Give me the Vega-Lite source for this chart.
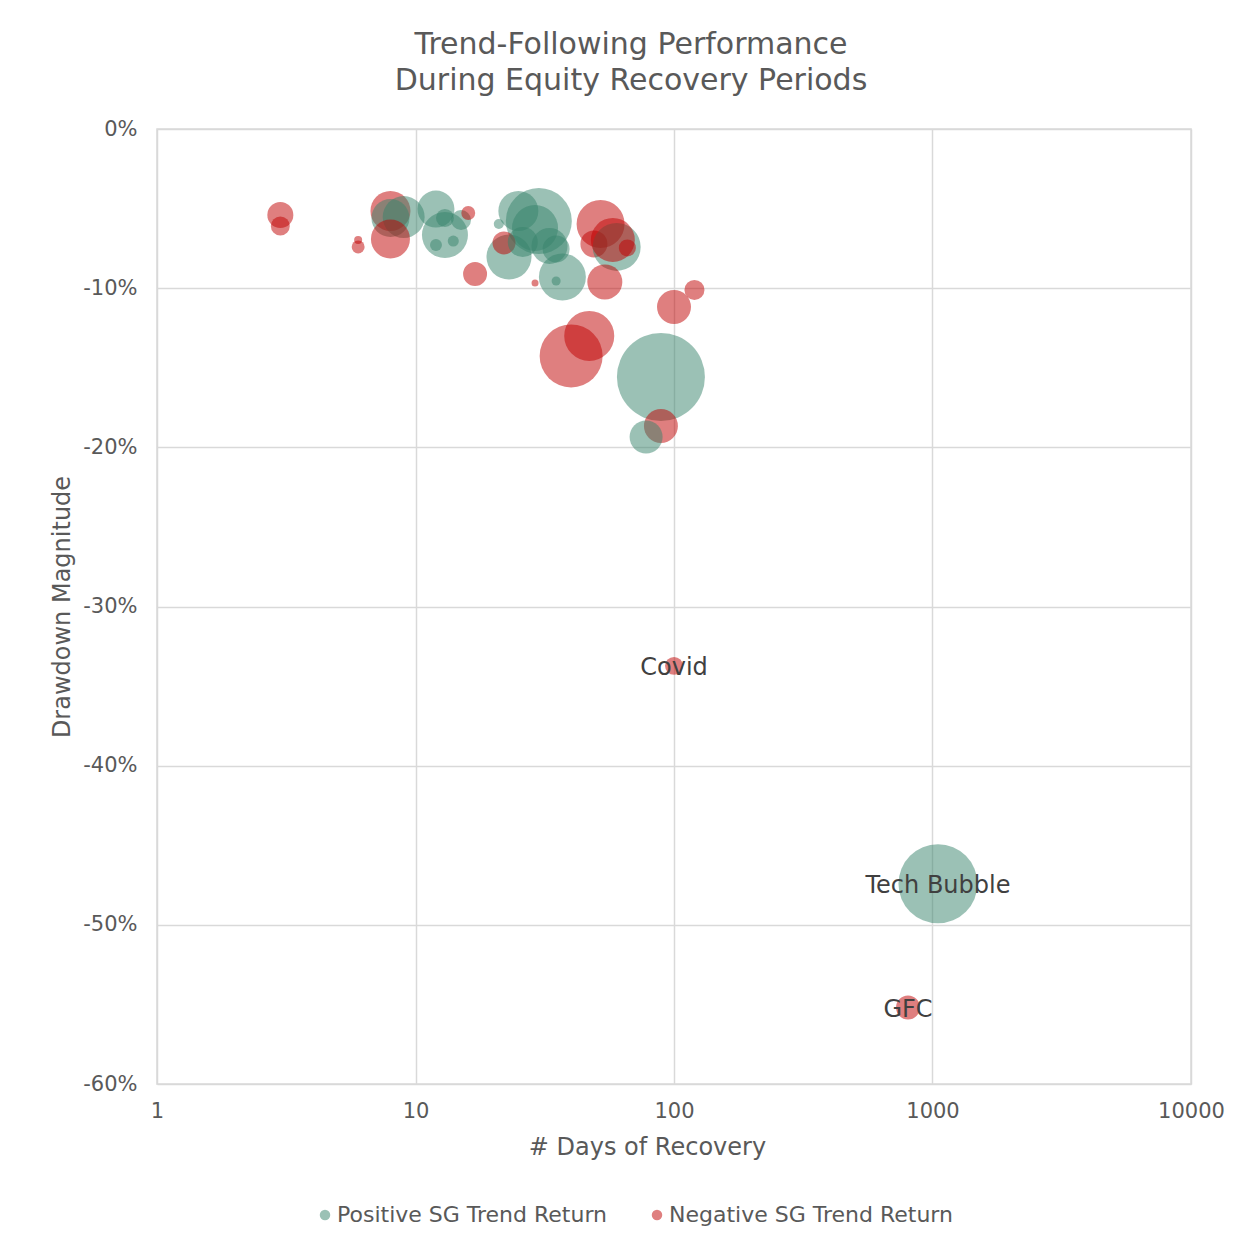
{
  "$schema": "https://vega.github.io/schema/vega-lite/v6.json",
  "width": 1034,
  "height": 955,
  "autosize": {"type": "none"},
  "padding": {"left": 157, "top": 129, "right": 59, "bottom": 163},
  "background": "white",
  "config": {
    "font": "DejaVu Sans",
    "view": {"stroke": "#D9D9D9", "strokeWidth": 1.5},
    "axis": {
      "gridColor": "#D9D9D9",
      "gridWidth": 1.5,
      "domain": false,
      "ticks": false,
      "labelColor": "#595959",
      "titleColor": "#595959",
      "labelFontSize": 21,
      "titleFontSize": 24,
      "titleFontWeight": "normal",
      "labelFont": "DejaVu Sans",
      "titleFont": "DejaVu Sans",
      "labelFlush": false,
      "labelOverlap": false
    }
  },
  "title": {
    "text": ["Trend-Following Performance", "During Equity Recovery Periods"],
    "fontSize": 30,
    "fontWeight": "normal",
    "color": "#595959",
    "font": "DejaVu Sans",
    "anchor": "middle",
    "dx": -43,
    "offset": 22,
    "lineHeight": 36
  },
  "data": {
    "values": [
      {"days": 3, "drawdown": -5.40, "sgReturnAbs": 1.05, "sign": "Negative SG Trend Return", "label": null},
      {"days": 3, "drawdown": -6.09, "sgReturnAbs": 0.56, "sign": "Negative SG Trend Return", "label": null},
      {"days": 6, "drawdown": -6.97, "sgReturnAbs": 0.10, "sign": "Negative SG Trend Return", "label": null},
      {"days": 6, "drawdown": -7.41, "sgReturnAbs": 0.26, "sign": "Negative SG Trend Return", "label": null},
      {"days": 8, "drawdown": -5.15, "sgReturnAbs": 2.48, "sign": "Negative SG Trend Return", "label": null},
      {"days": 9, "drawdown": -5.53, "sgReturnAbs": 2.73, "sign": "Positive SG Trend Return", "label": null},
      {"days": 8, "drawdown": -5.59, "sgReturnAbs": 2.24, "sign": "Positive SG Trend Return", "label": null},
      {"days": 8, "drawdown": -6.91, "sgReturnAbs": 2.36, "sign": "Negative SG Trend Return", "label": null},
      {"days": 12, "drawdown": -5.03, "sgReturnAbs": 2.12, "sign": "Positive SG Trend Return", "label": null},
      {"days": 13, "drawdown": -6.66, "sgReturnAbs": 3.28, "sign": "Positive SG Trend Return", "label": null},
      {"days": 13, "drawdown": -5.59, "sgReturnAbs": 0.50, "sign": "Positive SG Trend Return", "label": null},
      {"days": 15, "drawdown": -5.72, "sgReturnAbs": 0.62, "sign": "Positive SG Trend Return", "label": null},
      {"days": 12, "drawdown": -7.29, "sgReturnAbs": 0.22, "sign": "Positive SG Trend Return", "label": null},
      {"days": 14, "drawdown": -7.04, "sgReturnAbs": 0.19, "sign": "Positive SG Trend Return", "label": null},
      {"days": 16, "drawdown": -5.28, "sgReturnAbs": 0.30, "sign": "Negative SG Trend Return", "label": null},
      {"days": 17, "drawdown": -9.11, "sgReturnAbs": 0.89, "sign": "Negative SG Trend Return", "label": null},
      {"days": 25, "drawdown": -5.15, "sgReturnAbs": 2.48, "sign": "Positive SG Trend Return", "label": null},
      {"days": 30, "drawdown": -5.78, "sgReturnAbs": 6.75, "sign": "Positive SG Trend Return", "label": null},
      {"days": 29, "drawdown": -6.22, "sgReturnAbs": 3.28, "sign": "Positive SG Trend Return", "label": null},
      {"days": 23, "drawdown": -8.04, "sgReturnAbs": 3.14, "sign": "Positive SG Trend Return", "label": null},
      {"days": 21, "drawdown": -5.97, "sgReturnAbs": 0.155, "sign": "Positive SG Trend Return", "label": null},
      {"days": 22, "drawdown": -7.16, "sgReturnAbs": 0.82, "sign": "Negative SG Trend Return", "label": null},
      {"days": 26, "drawdown": -7.10, "sgReturnAbs": 1.40, "sign": "Positive SG Trend Return", "label": null},
      {"days": 33, "drawdown": -7.35, "sgReturnAbs": 2.01, "sign": "Positive SG Trend Return", "label": null},
      {"days": 35, "drawdown": -7.54, "sgReturnAbs": 1.13, "sign": "Positive SG Trend Return", "label": null},
      {"days": 37, "drawdown": -9.30, "sgReturnAbs": 3.42, "sign": "Positive SG Trend Return", "label": null},
      {"days": 35, "drawdown": -9.55, "sgReturnAbs": 0.126, "sign": "Positive SG Trend Return", "label": null},
      {"days": 29, "drawdown": -9.67, "sgReturnAbs": 0.076, "sign": "Negative SG Trend Return", "label": null},
      {"days": 52, "drawdown": -5.97, "sgReturnAbs": 3.57, "sign": "Negative SG Trend Return", "label": null},
      {"days": 49, "drawdown": -7.22, "sgReturnAbs": 1.13, "sign": "Negative SG Trend Return", "label": null},
      {"days": 60, "drawdown": -7.41, "sgReturnAbs": 3.57, "sign": "Positive SG Trend Return", "label": null},
      {"days": 58, "drawdown": -6.97, "sgReturnAbs": 3.00, "sign": "Negative SG Trend Return", "label": null},
      {"days": 66, "drawdown": -7.47, "sgReturnAbs": 0.45, "sign": "Negative SG Trend Return", "label": null},
      {"days": 54, "drawdown": -9.61, "sgReturnAbs": 1.90, "sign": "Negative SG Trend Return", "label": null},
      {"days": 100, "drawdown": -11.18, "sgReturnAbs": 1.79, "sign": "Negative SG Trend Return", "label": null},
      {"days": 120, "drawdown": -10.11, "sgReturnAbs": 0.62, "sign": "Negative SG Trend Return", "label": null},
      {"days": 40, "drawdown": -14.26, "sgReturnAbs": 6.15, "sign": "Negative SG Trend Return", "label": null},
      {"days": 47, "drawdown": -13.00, "sgReturnAbs": 3.88, "sign": "Negative SG Trend Return", "label": null},
      {"days": 89, "drawdown": -15.58, "sgReturnAbs": 12.0, "sign": "Positive SG Trend Return", "label": null},
      {"days": 89, "drawdown": -18.66, "sgReturnAbs": 1.79, "sign": "Negative SG Trend Return", "label": null},
      {"days": 78, "drawdown": -19.35, "sgReturnAbs": 1.69, "sign": "Positive SG Trend Return", "label": null},
      {"days": 100, "drawdown": -33.73, "sgReturnAbs": 0.50, "sign": "Negative SG Trend Return", "label": "Covid"},
      {"days": 1050, "drawdown": -47.42, "sgReturnAbs": 9.68, "sign": "Positive SG Trend Return", "label": "Tech Bubble"},
      {"days": 804, "drawdown": -55.2, "sgReturnAbs": 0.89, "sign": "Negative SG Trend Return", "label": "GFC"}
    ]
  },
  "encoding": {
    "x": {
      "field": "days",
      "type": "quantitative",
      "scale": {"type": "log", "domain": [1, 10000]},
      "axis": {
        "values": [1, 10, 100, 1000, 10000],
        "format": ".0f",
        "labelPadding": 16,
        "title": "# Days of Recovery",
        "titlePadding": 14,
        "titleX": 490
      }
    },
    "y": {
      "field": "drawdown",
      "type": "quantitative",
      "scale": {"domain": [-60, 0], "nice": false},
      "axis": {
        "values": [-60, -50, -40, -30, -20, -10, 0],
        "labelExpr": "toString(datum.value) + '%'",
        "labelPadding": 20,
        "title": "Drawdown Magnitude",
        "titlePadding": 8
      }
    }
  },
  "layer": [
    {
      "mark": {"type": "circle", "opacity": 0.5, "strokeWidth": 0},
      "encoding": {
        "size": {
          "field": "sgReturnAbs",
          "type": "quantitative",
          "scale": {"type": "linear", "domain": [0, 12], "range": [0, 7744]},
          "legend": null
        },
        "color": {
          "field": "sign",
          "type": "nominal",
          "scale": {
            "domain": ["Positive SG Trend Return", "Negative SG Trend Return"],
            "range": ["#37836B", "#C00000"]
          },
          "legend": {
            "title": null,
            "orient": "none",
            "direction": "horizontal",
            "legendX": 157,
            "legendY": 1075,
            "symbolType": "circle",
            "symbolSize": 110,
            "symbolOpacity": 0.5,
            "symbolStrokeWidth": 0,
            "labelFontSize": 22,
            "labelLimit": 0,
            "labelColor": "#595959",
            "labelFont": "DejaVu Sans",
            "labelOffset": 1,
            "columnPadding": 38
          }
        }
      }
    },
    {
      "transform": [{"filter": "datum.label != null"}],
      "mark": {"type": "text", "fontSize": 24, "color": "#404040", "font": "DejaVu Sans", "baseline": "middle", "align": "center", "dy": 2},
      "encoding": {"text": {"field": "label", "type": "nominal"}}
    }
  ]
}
